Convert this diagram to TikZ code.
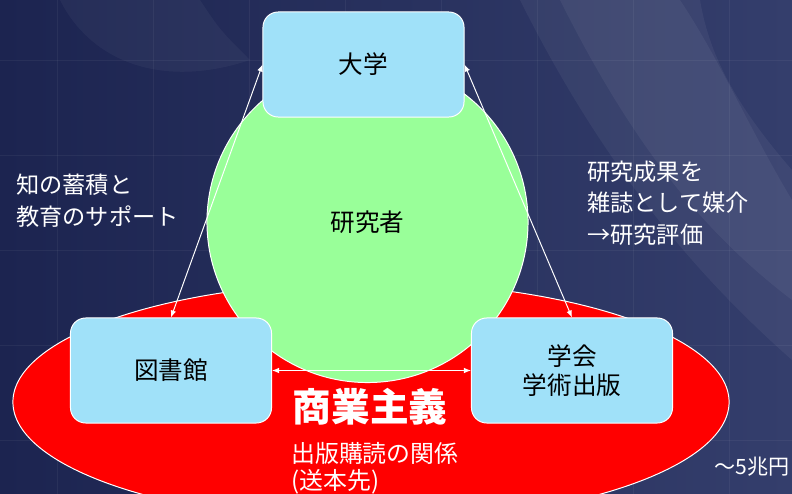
\documentclass[tikz,border=0pt]{standalone}
\usepackage{fontspec}
\setmainfont{Noto Sans CJK JP}
\usepackage{xcolor}
\usetikzlibrary{arrows.meta}
\usetikzlibrary{shapes.geometric}
\definecolor{bgnavy}{RGB}{28,36,80}
\definecolor{bgsteel}{RGB}{52,62,108}
\definecolor{orgblue}{RGB}{160,225,249}
\definecolor{rsgreen}{RGB}{153,255,153}
\definecolor{mkred}{RGB}{255,0,0}

\begin{document}
\begin{tikzpicture}[x=0.025cm, y=-0.025cm, >={Latex[length=5pt,width=4pt]},
	org/.style={rectangle, rounded corners=0.38cm, fill=orgblue, draw=white, line width=0.7pt,
		minimum width=5.025cm, minimum height=2.625cm, inner sep=0pt, align=center,
		font=\fontsize{17.5}{21}\selectfont},
	link/.style={<->, white, line width=0.7pt},
	note/.style={white, align=left, inner sep=0pt, font=\fontsize{16.5}{22.5}\selectfont}]
				\useasboundingbox (0,0) rectangle (792,494);
				\clip (0,0) rectangle (792,494);
				
				% Draw the background
				\shade[left color=bgnavy, right color=bgsteel] (0,0) rectangle (792,494);
				\fill[white, opacity=0.05] (520,0) .. controls (600,160) and (690,270) .. (792,360)
					-- (792,170) .. controls (740,110) and (710,60) .. (700,0) -- cycle;
				\fill[white, opacity=0.05] (560,0) .. controls (630,140) and (700,230) .. (792,300)
					-- (792,200) .. controls (750,130) and (720,60) .. (680,0) -- cycle;
				\fill[white, opacity=0.04] (60,0) .. controls (90,60) and (160,90) .. (250,60)
					.. controls (220,30) .. (200,0) -- cycle;
				\foreach \gx in {57,153,...,792}
					\draw[white, opacity=0.05] (\gx,0) -- (\gx,494);
				\foreach \gy in {60,155,...,494}
					\draw[white, opacity=0.05] (0,\gy) -- (792,\gy);
				
				% Draw the market and the researchers
				\node[ellipse, fill=mkred, draw=white, line width=0.7pt, minimum width=17.9cm,
					minimum height=6cm, inner sep=0pt] (market) at (371,402) {};
				\node[circle, fill=rsgreen, draw=white, line width=0.7pt, minimum size=8.025cm,
					inner sep=0pt, font=\fontsize{17.5}{21}\selectfont] (res) at (367.5,222) {研究者};
				
				% Draw the three organisations
				\node[org] (univ) at (363.5,64.5) {大学};
				\node[org] (lib) at (171,370.5) {図書館};
				\node[org] (soc) at (572,370.5) {学会\\学術出版};
				
				% Draw the links
				\draw[link] (univ.west) -- (lib.north);
				\draw[link] (univ.east) -- (soc.north);
				\draw[link] (lib.east) -- (soc.west);
				
				% Labels
				\node[white, inner sep=0pt, font=\fontsize{27.5}{30}\selectfont\bfseries] (comm) at (370,407) {商業主義};
				\node[note, anchor=west, font=\fontsize{17}{19.5}\selectfont] (subs) at (291,468) {出版購読の関係\\(送本先)};
				\node[note, anchor=west] (left) at (16,201) {知の蓄積と\\教育のサポート};
				\node[note, anchor=west] (right) at (587,203) {研究成果を\\雑誌として媒介\\→研究評価};
				\node[note, anchor=east, font=\fontsize{15}{18}\selectfont] (cost) at (790,467) {～5兆円};
\end{tikzpicture}
\end{document}
